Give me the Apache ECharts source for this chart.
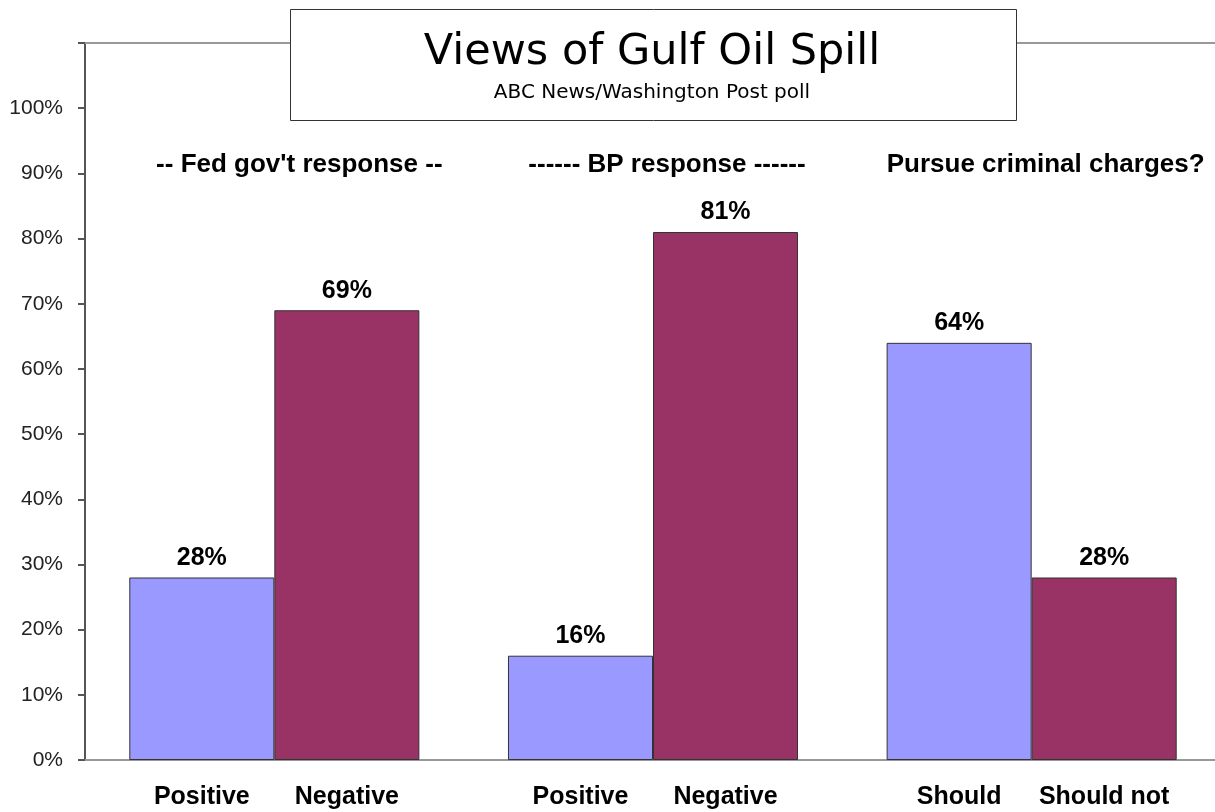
<!DOCTYPE html>
<html>
<head>
<meta charset="utf-8">
<script src="https://cdn.jsdelivr.net/npm/echarts@6/dist/echarts.min.js"></script>
<style>
html,body{margin:0;padding:0;background:#fff;overflow:hidden;width:1215px;height:812px;}
#chart{width:1230px;height:812px;}
</style>
</head>
<body>
<div id="chart"></div>
<script>
const groupTitles = ["-- Fed gov't response --", "------ BP response ------", "Pursue criminal charges?"];
const firstNames = ["Positive", "Positive", "Should"];
const secondNames = ["Negative", "Negative", "Should not"];
const firstValues = [28, 16, 64];
const secondValues = [69, 81, 28];
const yTickValues = [0, 10, 20, 30, 40, 50, 60, 70, 80, 90, 100];

const chart = echarts.init(document.getElementById('chart'));
const boldFont = {fontFamily: 'Liberation Sans, Arial, sans-serif', fontWeight: 'bold', fontSize: 25, color: '#000'};
const titlePads = [[0,0,0,50],[0,0,0,28],[0,0,0,28]];
const catGap = '23.4%';

function labelSeries(values, names) {
  return {
    type: 'bar', xAxisIndex: 1, yAxisIndex: 0, silent: true,
    barGap: 0, barCategoryGap: catGap,
    data: values,
    itemStyle: {color: 'rgba(0,0,0,0)', borderWidth: 0},
    label: Object.assign({show: true, position: 'insideBottom', offset: [0, 55],
      formatter: p => names[p.dataIndex]}, boldFont),
    z: 1
  };
}
function valueSeries(values, color) {
  return {
    type: 'bar', xAxisIndex: 0, yAxisIndex: 0,
    barGap: 0, barCategoryGap: catGap,
    data: values,
    itemStyle: {color: color, borderColor: '#333', borderWidth: 1},
    label: Object.assign({show: true, position: 'top', distance: 7, formatter: p => p.value + '%'}, boldFont),
    z: 3
  };
}

chart.setOption({
  animation: false,
  backgroundColor: '#fff',
  title: {
    text: 'Views of Gulf Oil Spill',
    subtext: 'ABC News/Washington Post poll',
    left: 652, top: 31, textAlign: 'center', padding: 0, itemGap: 9,
    textStyle: {fontFamily: 'DejaVu Sans', fontWeight: 'normal', fontSize: 43, color: '#000'},
    subtextStyle: {fontFamily: 'DejaVu Sans', fontSize: 20, color: '#000'},
    z: 12
  },
  graphic: [{
    type: 'rect', z: 10, left: 290, top: 9,
    shape: {width: 726, height: 111},
    style: {fill: '#fff', stroke: '#333', lineWidth: 1}
  }],
  grid: {left: 85, right: 9, top: 43, bottom: 52, containLabel: false},
  xAxis: [{
    type: 'category', position: 'bottom', data: groupTitles,
    axisLine: {show: true, lineStyle: {color: '#999', width: 2}},
    axisTick: {show: false}, axisLabel: {show: false}, splitLine: {show: false}
  }, {
    type: 'category', position: 'top',
    data: groupTitles.map((t, i) => ({value: t, textStyle: {padding: titlePads[i]}})),
    axisLine: {show: true, lineStyle: {color: '#999', width: 2}},
    axisTick: {show: false},
    axisLabel: Object.assign({show: true, inside: true, margin: 109, interval: 0}, boldFont, {fontSize: 26}),
    splitLine: {show: false}
  }],
  yAxis: {
    type: 'value', min: 0, max: 110, interval: 10,
    axisLine: {show: true, lineStyle: {color: '#555', width: 2}},
    axisTick: {show: true, inside: false, length: 7, lineStyle: {color: '#555', width: 2}},
    axisLabel: {
      margin: 22, fontFamily: 'Liberation Sans, Arial, sans-serif', fontSize: 21, color: '#222',
      formatter: v => yTickValues.indexOf(v) >= 0 ? v + '%' : ''
    },
    splitLine: {show: false}
  },
  series: [
    valueSeries(firstValues, '#9999FF'),
    valueSeries(secondValues, '#993366'),
    labelSeries(firstValues, firstNames),
    labelSeries(secondValues, secondNames)
  ]
});
</script>
</body>
</html>
